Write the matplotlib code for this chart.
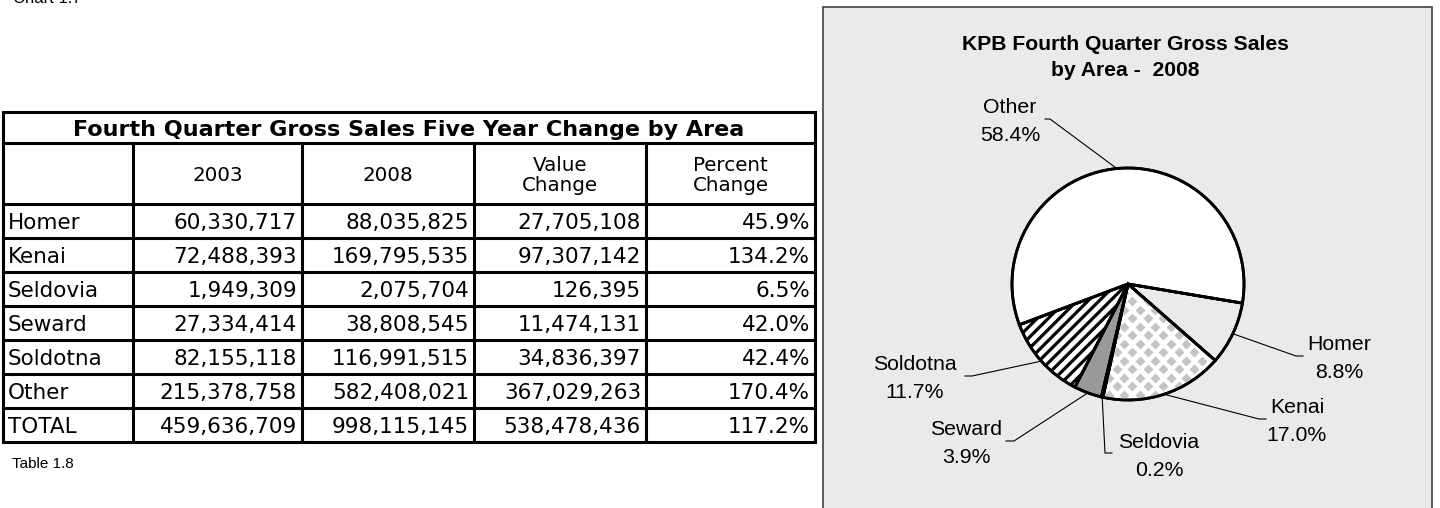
import numpy as np
import matplotlib
matplotlib.use('Agg')
import matplotlib.pyplot as plt
from matplotlib.patches import Rectangle, Wedge

# table data (Table 1.8)
areas = ['Homer', 'Kenai', 'Seldovia', 'Seward', 'Soldotna', 'Other', 'TOTAL']
sales_2003 = [60330717, 72488393, 1949309, 27334414, 82155118, 215378758, 459636709]
sales_2008 = [88035825, 169795535, 2075704, 38808545, 116991515, 582408021, 998115145]
value_change = [27705108, 97307142, 126395, 11474131, 34836397, 367029263, 538478436]
percent_change = [45.9, 134.2, 6.5, 42.0, 42.4, 170.4, 117.2]
header_labels = ['', '2003', '2008', 'Value\nChange', 'Percent\nChange']
table_title = 'Fourth Quarter Gross Sales Five Year Change by Area'

# pie data (2008 shares)
pie_areas = areas[:6]
pie_values = sales_2008[:6]
pie_shares = [8.8, 17.0, 0.2, 3.9, 11.7, 58.4]
pie_title = ['KPB Fourth Quarter Gross Sales', 'by Area -  2008']

W, H = 1440, 508
plt.rcParams['hatch.linewidth'] = 2.3
fig = plt.figure(figsize=(W / 100, H / 100), dpi=100)
ax = fig.add_axes([0, 0, 1, 1])
ax.set_xlim(0, W)
ax.set_ylim(H, 0)
ax.axis('off')

ARIAL = 'Liberation Sans'
TFONT = 'DejaVu Sans'


def px(pt):
    return pt * 100 / 72.0


ax.text(13, 3, 'Chart 1.7', fontsize=12, family=ARIAL, va='baseline')

# ---- table ----
col_x = [3, 133, 302, 474, 646, 815]
title_top, head_top, body_top, row_h = 112, 143, 204, 34
bottom = body_top + len(areas) * row_h
lw = 2.2
ax.add_patch(Rectangle((col_x[0], title_top), col_x[-1] - col_x[0], bottom - title_top,
                       fill=False, lw=lw, ec='black', joinstyle='miter'))
ax.plot([col_x[0], col_x[-1]], [head_top, head_top], color='black', lw=lw)
for i in range(len(areas)):
    y = body_top + i * row_h
    ax.plot([col_x[0], col_x[-1]], [y, y], color='black', lw=lw)
for x in col_x[1:-1]:
    ax.plot([x, x], [head_top, bottom], color='black', lw=lw)

fs_title = 16
ax.text((col_x[0] + col_x[-1]) / 2, (title_top + head_top) / 2 + 0.36 * px(fs_title),
        table_title, fontsize=fs_title, fontweight='bold', family=TFONT,
        ha='center', va='baseline')

fs_head = 14.3
for j, lab in enumerate(header_labels):
    lines = lab.split('\n') if lab else []
    cx = (col_x[j] + col_x[j + 1]) / 2
    cy = (head_top + body_top) / 2
    step = 20
    for k, ln in enumerate(lines):
        yy = cy + (k - (len(lines) - 1) / 2) * step + 0.36 * px(fs_head)
        ax.text(cx, yy, ln, fontsize=fs_head, family=TFONT, ha='center', va='baseline')

fs_body = 15.5
for i, name in enumerate(areas):
    yb = body_top + (i + 0.5) * row_h + 0.36 * px(fs_body)
    ax.text(col_x[0] + 5, yb, name, fontsize=fs_body, family=TFONT, va='baseline')
    cells = [f'{sales_2003[i]:,}', f'{sales_2008[i]:,}', f'{value_change[i]:,}',
             f'{percent_change[i]:.1f}%']
    for j, c in enumerate(cells):
        ax.text(col_x[j + 2] - 5, yb, c, fontsize=fs_body, family=TFONT,
                ha='right', va='baseline')

ax.text(12, 462 + 0.36 * px(11), 'Table 1.8', fontsize=11, family=ARIAL, va='baseline')

# ---- pie panel ----
ax.add_patch(Rectangle((823, 7), 1432 - 823, 540, facecolor='#eaeaea', ec='#404040', lw=1.2))
fs_pt = 15.2
for k, ln in enumerate(pie_title):
    ax.text(1125, 42 + k * 26 + 0.36 * px(fs_pt), ln, fontsize=fs_pt, fontweight='bold',
            family=ARIAL, ha='center', va='baseline')

cx, cy, R = 1128, 284, 116
box = 150
ax_pie = fig.add_axes([(cx - box) / W, (H - cy - box) / H, 2 * box / W, 2 * box / H])
colors = ['#eaeaea', 'white', 'black', '#999999', 'white', 'white']
wedges, _ = ax_pie.pie(pie_values, colors=colors, startangle=-9.5, counterclock=False,
                       wedgeprops=dict(edgecolor='black', linewidth=2.0))
ax_pie.set_xlim(-box / R, box / R)
ax_pie.set_ylim(-box / R, box / R)
ax_pie.set_facecolor('none')
wedges[4].set_hatch('///')

# Kenai: grey diamond pattern
dx, dy = 15.5 / R, 17.0 / R
gx, gy = np.meshgrid(np.arange(-1.1, 1.1, dx), np.arange(-1.1, 1.1, dy))
px_d = np.concatenate([gx.ravel(), gx.ravel() + dx / 2])
py_d = np.concatenate([gy.ravel(), gy.ravel() + dy / 2])
dots, = ax_pie.plot(px_d, py_d, 'D', color='#c4c4c4', ms=5.4, mec='none', zorder=1.5)
dots.set_clip_path(wedges[1])
for w in wedges:
    ax_pie.add_patch(Wedge(w.center, w.r, w.theta1, w.theta2, fill=False,
                           ec='black', lw=2.0, zorder=3))

# labels with leader lines
label_xy = [(1339, 342), (1297, 405), (1159, 440), (966, 427), (915, 362), (1010, 105)]
elbow = [(1296, 356, 1303), (1259, 419, 1266), (1105, 453, 1112),
         (1014, 441, 1006), (972, 376, 965), (1050, 119, 1045)]
fs_lab = 15.3
for w, name, share, (lx, ly), (ex, ey, tx) in zip(wedges, pie_areas, pie_shares, label_xy, elbow):
    mid = np.deg2rad((w.theta1 + w.theta2) / 2)
    sx, sy = cx + R * np.cos(mid), cy - R * np.sin(mid)
    ax.plot([sx, ex, tx], [sy, ey, ey], color='black', lw=0.8)
    for k, ln in enumerate([name, f'{share:.1f}%']):
        ax.text(lx, ly + k * 28 + 0.36 * px(fs_lab), ln, fontsize=fs_lab, family=ARIAL,
                ha='center', va='baseline')

fig.savefig('out.png', dpi=100)
